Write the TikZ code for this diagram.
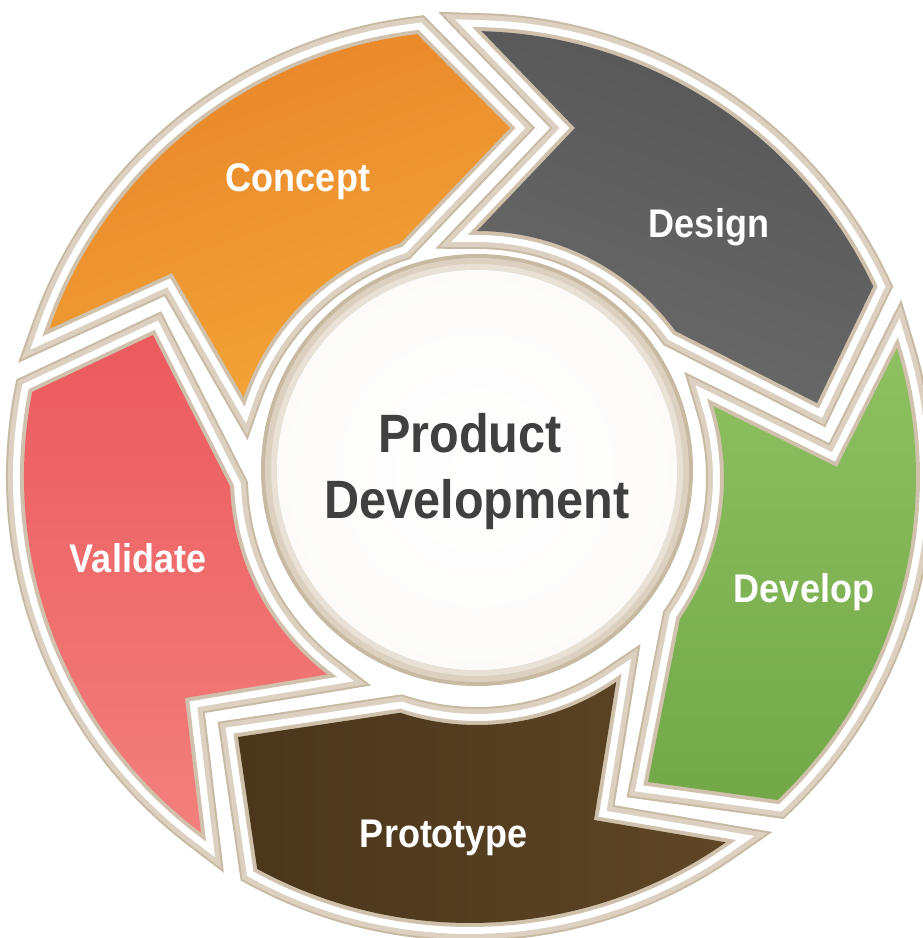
\documentclass[tikz,border=0pt]{standalone}
\usepackage{fontspec}
\newfontfamily\labfont{Liberation Sans}[FakeStretch=0.9]
\definecolor{rimdark}{HTML}{C8B9A3}
\definecolor{rimc}{HTML}{DCD1C1}
\definecolor{rimthin}{HTML}{CFC1AC}
\definecolor{rimlight}{HTML}{E9E1D6}
\definecolor{ctrtext}{HTML}{404040}
\definecolor{orA}{HTML}{E8852A}
\definecolor{orB}{HTML}{F3A536}
\definecolor{grA}{HTML}{565656}
\definecolor{grB}{HTML}{6A6A6A}
\definecolor{gnA}{HTML}{8EC061}
\definecolor{gnB}{HTML}{72A848}
\definecolor{brA}{HTML}{4A361B}
\definecolor{brB}{HTML}{5E4625}
\definecolor{rdA}{HTML}{EC5A5E}
\definecolor{rdB}{HTML}{F2807D}
\begin{document}
\begin{tikzpicture}[x=1pt,y=1pt,
  rimout/.style={draw=rimdark, line width=36pt, line join=miter, miter limit=3},
  rimmid/.style={draw=rimc, line width=32pt, line join=miter, miter limit=3},
  rimwhite/.style={draw=white, line width=22pt, line join=miter, miter limit=3},
  rimin/.style={draw=rimthin, line width=8pt, line join=miter},
  lbl/.style={anchor=base, text=white, inner sep=0pt, font=\labfont\bfseries\fontsize{40}{40}\selectfont},
  ctr/.style={anchor=base, text=ctrtext, inner sep=0pt, font=\labfont\bfseries\fontsize{54}{54}\selectfont}]
\useasboundingbox (-470,-461) rectangle (452,477);
\fill[white] (-470,-461) rectangle (452,477);

\def\pConcept{(96.8:446pt) -- (40,349) -- ([shift={(7,-1)}]108.1:247pt) arc[start angle=108.1,end angle=160.9,radius=247pt] -- (-298,204) -- (160.6:446pt) arc[start angle=160.6,end angle=96.8,radius=446pt] -- cycle}
\def\pDesign{(88.5:446pt) -- (105,349) -- ([shift={(7,-1)}]90:247pt) arc[start angle=90,end angle=36.5,radius=247pt] -- (347,74) -- (25.3:446pt) arc[start angle=25.3,end angle=88.5,radius=446pt] -- cycle}
\def\pDevelop{(16.8:446pt) -- (367,10) -- ([shift={(7,-1)}]16.9:247pt) arc[start angle=16.9,end angle=-34.7,radius=247pt] -- (178,-305) -- (-46.4:446pt) arc[start angle=-46.4,end angle=16.8,radius=446pt] -- cycle}
\def\pPrototype{(-55:446pt) -- (124,-343) -- ([shift={(7,-1)}]-55.7:247pt) arc[start angle=-55.7,end angle=-108.1,radius=247pt] -- (-232,-260) -- (-118.5:446pt) arc[start angle=-118.5,end angle=-55,radius=446pt] -- cycle}
\def\pValidate{(169:446pt) arc[start angle=169,end angle=232.9,radius=446pt] -- (-285,-221) -- ([shift={(7,-1)}]232.7:247pt) arc[start angle=232.7,end angle=182,radius=247pt] -- (-317,142) -- cycle}

% outer beige rims
\path[rimout] \pConcept;
\path[rimout] \pDesign;
\path[rimout] \pDevelop;
\path[rimout] \pPrototype;
\path[rimout] \pValidate;
\path[rimmid] \pConcept;
\path[rimmid] \pDesign;
\path[rimmid] \pDevelop;
\path[rimmid] \pPrototype;
\path[rimmid] \pValidate;
% white bands
\path[rimwhite] \pConcept;
\path[rimwhite] \pDesign;
\path[rimwhite] \pDevelop;
\path[rimwhite] \pPrototype;
\path[rimwhite] \pValidate;
% inner beige
\path[rimin] \pConcept;
\path[rimin] \pDesign;
\path[rimin] \pDevelop;
\path[rimin] \pPrototype;
\path[rimin] \pValidate;
% fills
\shade[top color=orA, bottom color=orB, shading angle=20] \pConcept;
\shade[top color=grA, bottom color=grB, shading angle=-20] \pDesign;
\shade[top color=gnA, bottom color=gnB] \pDevelop;
\shade[top color=brA, bottom color=brB, shading angle=90] \pPrototype;
\shade[top color=rdA, bottom color=rdB] \pValidate;

% central disk
\fill[rimdark] (7,7) circle (216pt);
\fill[rimc] (7,7) circle (212pt);
\fill[rimlight] (7,7) circle (206pt);
\shade[inner color=white, outer color=white!92!rimc] (7,7) circle (200pt);

% labels
\node[lbl] (concept) at (-172,285) {Concept};
\node[lbl] (design) at (239,240) {Design};
\node[lbl] (develop) at (334,-125) {Develop};
\node[lbl] (prototype) at (-26,-370) {Prototype};
\node[lbl] (validate) at (-332,-95) {Validate};
\node[ctr] (product) at (0,25) {Product};
\node[ctr] (development) at (7,-41) {Development};
\end{tikzpicture}
\end{document}
